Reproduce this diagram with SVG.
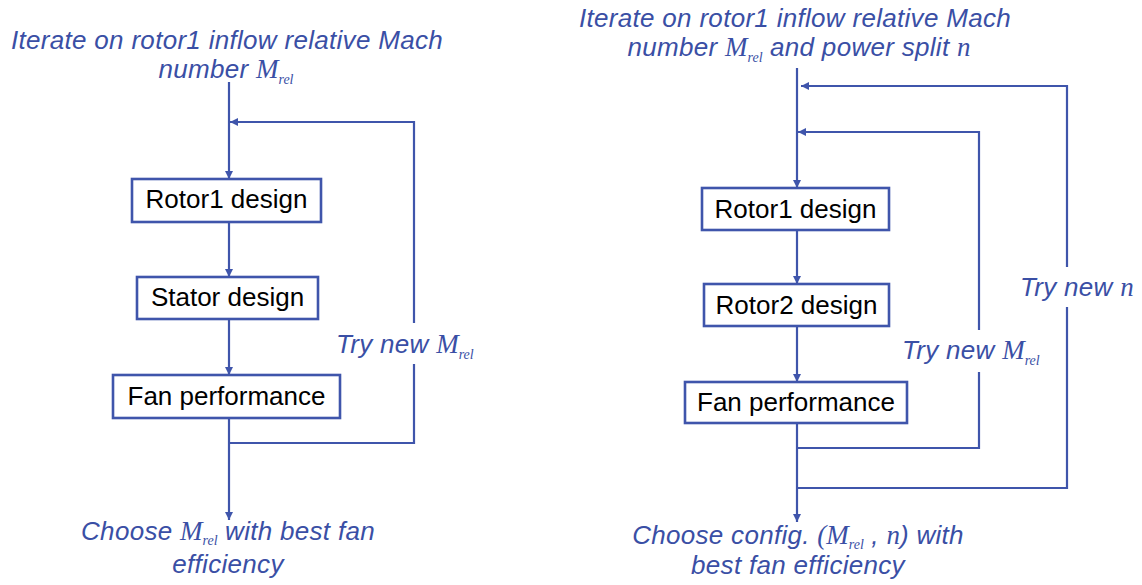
<svg xmlns="http://www.w3.org/2000/svg" width="1142" height="585" viewBox="0 0 1142 585">
<style>
  .bg{fill:#ffffff}
  .box{fill:#ffffff;stroke:#3f55ab;stroke-width:2.6}
  .bt{font-family:"Liberation Sans",Arial,sans-serif;font-size:26px;fill:#000000;text-anchor:middle}
  .lbl{font-family:"Liberation Sans",Arial,sans-serif;font-size:26px;font-style:italic;fill:#3a4fa5;letter-spacing:0.3px}
  .mid{text-anchor:middle}
  .m{font-family:"Liberation Serif","Times New Roman",serif;font-style:italic;font-size:27px;letter-spacing:0}
  .sub{font-family:"Liberation Serif","Times New Roman",serif;font-style:italic;font-size:14px;letter-spacing:0}
  .ln{fill:none;stroke:#3f55ab;stroke-width:2.2}
</style>
<defs>
  <marker id="arr" viewBox="0 0 10 10" refX="10" refY="5" markerWidth="8" markerHeight="8" markerUnits="userSpaceOnUse" orient="auto">
    <path d="M0,0 L10,5 L0,10 Z" fill="#3f55ab"/>
  </marker>
</defs>
<rect class="bg" x="0" y="0" width="1142" height="585"/>

<g id="connectors">
  <!-- left -->
  <path class="ln" d="M229,82 V179" marker-end="url(#arr)"/>
  <path class="ln" d="M229,222 V277" marker-end="url(#arr)"/>
  <path class="ln" d="M229,319 V375" marker-end="url(#arr)"/>
  <path class="ln" d="M229,418 V520" marker-end="url(#arr)"/>
  <path class="ln" d="M229,443 H414 V364"/>
  <path class="ln" d="M414,323 V122 H230" marker-end="url(#arr)"/>
  <!-- right -->
  <path class="ln" d="M797,68 V188" marker-end="url(#arr)"/>
  <path class="ln" d="M797,230 V284" marker-end="url(#arr)"/>
  <path class="ln" d="M797,326 V382" marker-end="url(#arr)"/>
  <path class="ln" d="M797,423 V522" marker-end="url(#arr)"/>
  <path class="ln" d="M797,448 H979 V372"/>
  <path class="ln" d="M979,330 V132 H798" marker-end="url(#arr)"/>
  <path class="ln" d="M797,488 H1067 V307"/>
  <path class="ln" d="M1067,267 V86 H801" marker-end="url(#arr)"/>
</g>

<!-- left diagram -->
<g id="left-start">
  <text class="lbl mid" x="227" y="49">Iterate on rotor1 inflow relative Mach</text>
  <text class="lbl mid" x="226" y="78">number <tspan class="m">M</tspan><tspan class="sub" dy="6">rel</tspan></text>
</g>
<g id="left-rotor1">
  <rect class="box" x="132" y="179" width="189" height="43"/>
  <text class="bt" x="226.5" y="208">Rotor1 design</text>
</g>
<g id="left-stator">
  <rect class="box" x="137" y="277" width="181" height="42"/>
  <text class="bt" x="227.5" y="306">Stator design</text>
</g>
<g id="left-fan">
  <rect class="box" x="113" y="375" width="227" height="43"/>
  <text class="bt" x="226.5" y="405">Fan performance</text>
</g>
<g id="left-try">
  <text class="lbl" x="336" y="353">Try new <tspan class="m">M</tspan><tspan class="sub" dy="6">rel</tspan></text>
</g>
<g id="left-end">
  <text class="lbl mid" x="228" y="540">Choose <tspan class="m">M</tspan><tspan class="sub" dy="5">rel</tspan><tspan dy="-5"> with best fan</tspan></text>
  <text class="lbl mid" x="228" y="573">efficiency</text>
</g>

<!-- right diagram -->
<g id="right-start">
  <text class="lbl mid" x="795" y="27">Iterate on rotor1 inflow relative Mach</text>
  <text class="lbl mid" x="799" y="56">number <tspan class="m">M</tspan><tspan class="sub" dy="6">rel</tspan><tspan dy="-6"> and power split </tspan><tspan class="m">n</tspan></text>
</g>
<g id="right-rotor1">
  <rect class="box" x="702" y="188" width="187" height="42"/>
  <text class="bt" x="795.5" y="218">Rotor1 design</text>
</g>
<g id="right-rotor2">
  <rect class="box" x="704" y="284" width="185" height="42"/>
  <text class="bt" x="796.5" y="314">Rotor2 design</text>
</g>
<g id="right-fan">
  <rect class="box" x="685" y="382" width="222" height="41"/>
  <text class="bt" x="796" y="411">Fan performance</text>
</g>
<g id="right-try-m">
  <text class="lbl" x="902" y="359">Try new <tspan class="m">M</tspan><tspan class="sub" dy="6">rel</tspan></text>
</g>
<g id="right-try-n">
  <text class="lbl" x="1020" y="296">Try new <tspan class="m">n</tspan></text>
</g>
<g id="right-end">
  <text class="lbl mid" x="798" y="544">Choose config. <tspan class="m">(M</tspan><tspan class="sub" dy="5">rel</tspan><tspan dy="-5"> , </tspan><tspan class="m">n</tspan>) with</text>
  <text class="lbl mid" x="798" y="574">best fan efficiency</text>
</g>
</svg>
